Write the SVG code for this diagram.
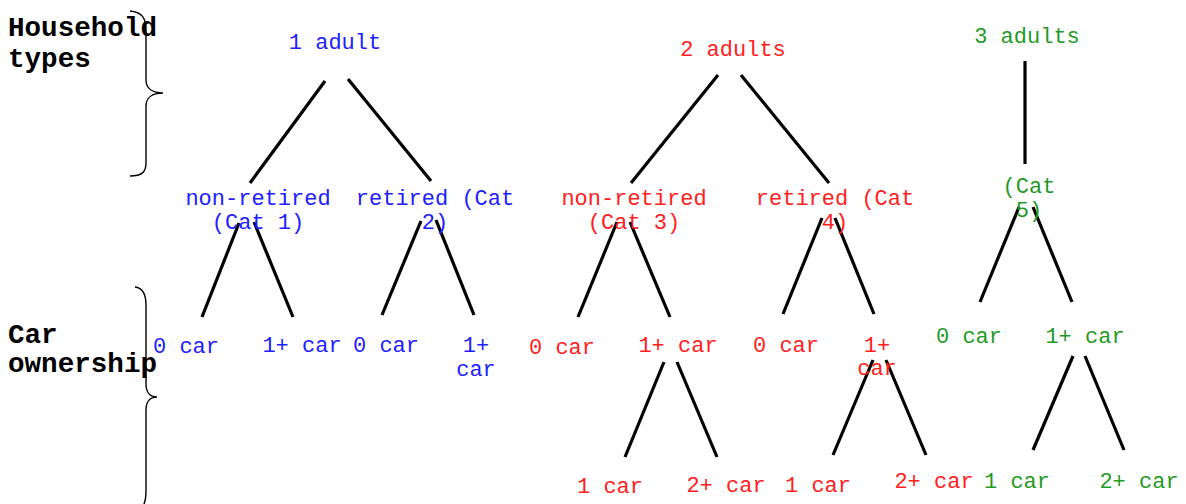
<svg xmlns="http://www.w3.org/2000/svg" width="1186" height="504" viewBox="0 0 1186 504">
<style>
text{font-family:"Liberation Mono","Courier New",monospace;font-size:22px;text-anchor:middle}
.b{fill:#2020ff}.r{fill:#ff2020}.g{fill:#1f9a25}
.h{font-weight:bold;font-size:27.6px;text-anchor:start;fill:#000}
.ln line{stroke:#000;stroke-width:3.2}
.br{fill:none;stroke:#000;stroke-width:1.4}
</style>
<rect width="1186" height="504" fill="#fff"/>
<g id="legend">
<text class="h" x="8" y="36">Household</text>
<text class="h" x="8" y="67">types</text>
<path class="br" d="M130,11 C142,12 146,18 146,30 L146,80 C146,88 152,93 163,93 C152,93 146,98 146,106 L146,163 C146,172 142,176 130,176"/>
<text class="h" x="8" y="343">Car</text>
<text class="h" x="8" y="372">ownership</text>
<path class="br" d="M135,287 C143,288 146,294 146,305 L146,384 C146,392 150,397 157,397 C150,397 146,402 146,410 L146,490 C146,498 145,503 143,506"/>
</g>
<g id="connectors" class="ln">
<line x1="325" y1="81" x2="250" y2="183"/>
<line x1="348" y1="79" x2="431" y2="181"/>
<line x1="718" y1="75" x2="631" y2="183"/>
<line x1="741" y1="75" x2="829" y2="183"/>
<line x1="1025" y1="61" x2="1025" y2="164"/>
<line x1="239" y1="223" x2="202" y2="317"/>
<line x1="254" y1="222" x2="293" y2="317"/>
<line x1="421" y1="221" x2="382" y2="315"/>
<line x1="436" y1="220" x2="474" y2="315"/>
<line x1="617" y1="222" x2="578" y2="317"/>
<line x1="630" y1="222" x2="670" y2="317"/>
<line x1="822" y1="218" x2="783" y2="314"/>
<line x1="835" y1="218" x2="874" y2="314"/>
<line x1="1019" y1="207" x2="980" y2="302"/>
<line x1="1033" y1="207" x2="1072" y2="302"/>
<line x1="664" y1="362" x2="625" y2="457"/>
<line x1="677" y1="362" x2="717" y2="457"/>
<line x1="873" y1="360" x2="833" y2="455"/>
<line x1="886" y1="360" x2="926" y2="455"/>
<line x1="1073" y1="356" x2="1033" y2="450"/>
<line x1="1085" y1="356" x2="1124" y2="450"/>
</g>
<g id="n-1adult"><text class="b" x="335" y="49">1 adult</text></g>
<g id="n-2adults"><text class="r" x="733" y="56">2 adults</text></g>
<g id="n-3adults"><text class="g" x="1027" y="43">3 adults</text></g>
<g id="n-cat1"><text class="b" x="258" y="205">non-retired</text><text class="b" x="258" y="229">(Cat 1)</text></g>
<g id="n-cat2"><text class="b" x="435" y="205">retired (Cat</text><text class="b" x="435" y="229">2)</text></g>
<g id="n-cat3"><text class="r" x="634" y="205">non-retired</text><text class="r" x="634" y="229">(Cat 3)</text></g>
<g id="n-cat4"><text class="r" x="835" y="205">retired (Cat</text><text class="r" x="835" y="229">4)</text></g>
<g id="n-cat5"><text class="g" x="1029" y="193">(Cat</text><text class="g" x="1029" y="217">5)</text></g>
<g id="n-c1-0"><text class="b" x="186" y="353">0 car</text></g>
<g id="n-c1-1"><text class="b" x="302" y="352">1+ car</text></g>
<g id="n-c2-0"><text class="b" x="386" y="352">0 car</text></g>
<g id="n-c2-1"><text class="b" x="476" y="352">1+</text><text class="b" x="476" y="376">car</text></g>
<g id="n-c3-0"><text class="r" x="562" y="354">0 car</text></g>
<g id="n-c3-1"><text class="r" x="678" y="352">1+ car</text></g>
<g id="n-c4-0"><text class="r" x="786" y="352">0 car</text></g>
<g id="n-c4-1"><text class="r" x="877" y="352">1+</text><text class="r" x="877" y="375">car</text></g>
<g id="n-c5-0"><text class="g" x="969" y="343">0 car</text></g>
<g id="n-c5-1"><text class="g" x="1085" y="343">1+ car</text></g>
<g id="n-c3-1car"><text class="r" x="610" y="493">1 car</text></g>
<g id="n-c3-2car"><text class="r" x="726" y="492">2+ car</text></g>
<g id="n-c4-1car"><text class="r" x="818" y="492">1 car</text></g>
<g id="n-c4-2car"><text class="r" x="934" y="488">2+ car</text></g>
<g id="n-c5-1car"><text class="g" x="1017" y="488">1 car</text></g>
<g id="n-c5-2car"><text class="g" x="1139" y="488">2+ car</text></g>
</svg>
